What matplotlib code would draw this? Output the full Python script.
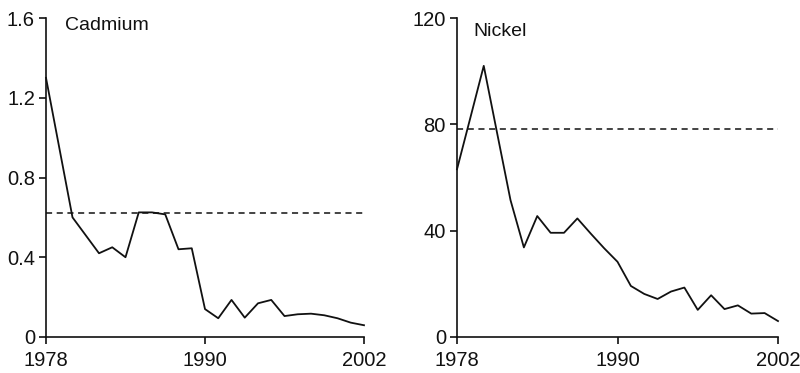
from matplotlib import pyplot as plt
import numpy as np

plt.rcParams['font.family'] = ['Liberation Sans', 'DejaVu Sans']

years = list(range(1978, 2003))

cadmium = [1.30, 0.95, 0.60, 0.51, 0.42, 0.45, 0.40, 0.625, 0.625, 0.615,
           0.44, 0.445, 0.14, 0.094, 0.186, 0.097, 0.169, 0.186, 0.105,
           0.114, 0.117, 0.109, 0.094, 0.072, 0.059]
nickel = [63.1, 82.5, 102.0, 76.7, 51.5, 33.7, 45.5, 39.2, 39.2, 44.6,
          38.9, 33.4, 28.3, 19.2, 16.2, 14.3, 17.1, 18.6, 10.2, 15.7,
          10.5, 11.9, 8.8, 9.0, 6.0]

cadmium_limit = 0.62
nickel_limit = 78.3

xticks = [1978, 1990, 2002]
cad_yticks = [0, 0.4, 0.8, 1.2, 1.6]
cad_ylabels = ['0', '0.4', '0.8', '1.2', '1.6']
ni_yticks = [0, 40, 80, 120]

fig = plt.figure(figsize=(8, 3.73), dpi=100)
ax1 = fig.add_axes([46/800, 36/373, 318/800, 319/373])
ax2 = fig.add_axes([457/800, 36/373, 321/800, 319/373])

def style(ax):
    for s in ['top', 'right']:
        ax.spines[s].set_visible(False)
    for s in ['left', 'bottom']:
        ax.spines[s].set_linewidth(1.2)
        ax.spines[s].set_color('#111111')
    ax.tick_params(direction='out', length=5, width=1.2, labelsize=14.5,
                   colors='#111111', pad=3)
    ax.tick_params(axis='x', pad=5)
    ax.set_xlim(1978, 2002)
    ax.set_xticks(xticks)

ax1.plot(years, cadmium, color='#111111', lw=1.3, clip_on=False)
ax1.axhline(cadmium_limit, color='#111111', lw=1.1, linestyle=(0, (4, 3)))
ax1.set_ylim(0, 1.6)
ax1.set_yticks(cad_yticks)
ax1.set_yticklabels(cad_ylabels)
style(ax1)
ax1.text(1979.4, 1.56, 'Cadmium', fontsize=14, va='center', color='#111111')

ax2.plot(years, nickel, color='#111111', lw=1.3, clip_on=False)
ax2.axhline(nickel_limit, color='#111111', lw=1.1, linestyle=(0, (4, 3)))
ax2.set_ylim(0, 120)
ax2.set_yticks(ni_yticks)
style(ax2)
ax2.text(1979.2, 115, 'Nickel', fontsize=14, va='center', color='#111111')

plt.savefig('out.png', dpi=100)
